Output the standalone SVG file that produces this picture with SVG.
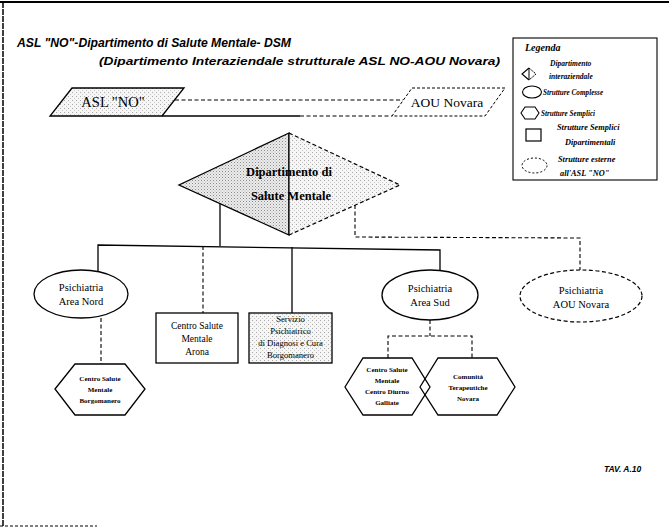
<svg xmlns="http://www.w3.org/2000/svg" width="669" height="528" viewBox="0 0 669 528">
<defs>
<pattern id="stip" width="3" height="3" patternUnits="userSpaceOnUse">
<rect width="3" height="3" fill="#ececec"/>
<rect x="0" y="0" width="1" height="1" fill="#8a8a8a"/>
<rect x="1.5" y="1.5" width="1" height="1" fill="#b0b0b0"/>
</pattern>
<pattern id="stipL" width="4" height="4" patternUnits="userSpaceOnUse">
<rect width="4" height="4" fill="#f6f6f6"/>
<rect x="0" y="0" width="1" height="1" fill="#a8a8a8"/>
<rect x="2" y="2" width="1" height="1" fill="#c8c8c8"/>
</pattern>
<style>
.s{fill:none;stroke:#000;stroke-width:1.3}
.d{fill:none;stroke:#000;stroke-width:1.1;stroke-dasharray:4 2.5}
.n{fill:#fff;stroke:#000;stroke-width:1.3}
.nd{fill:#fff;stroke:#000;stroke-width:1.2;stroke-dasharray:4 2.5}
.t{font-family:"Liberation Serif","Times New Roman",serif;fill:#000;text-anchor:middle}
.ti{font-family:"Liberation Sans",Arial,sans-serif;font-style:italic;font-weight:bold;fill:#000}
.lg{font-family:"Liberation Serif","Times New Roman",serif;font-style:italic;font-weight:bold;fill:#000}
</style>
</defs>
<rect width="669" height="528" fill="#fff"/>
<g id="border">
<line x1="0" y1="2" x2="669" y2="2" stroke="#000" stroke-width="2"/>
<line x1="3" y1="2" x2="3" y2="526" stroke="#000" stroke-width="1.5" stroke-dasharray="6 1"/>
<line x1="0" y1="526" x2="97" y2="526" stroke="#000" stroke-width="1" stroke-dasharray="3 2"/>
</g>
<g id="title">
<text class="ti" x="17" y="47" font-size="12.5" textLength="274" lengthAdjust="spacingAndGlyphs">ASL "NO"-Dipartimento di Salute Mentale- DSM</text>
<text class="ti" x="99" y="65" font-size="10" textLength="401" lengthAdjust="spacingAndGlyphs">(Dipartimento Interaziendale strutturale ASL NO-AOU Novara)</text>
</g>
<g id="legend">
<rect x="513" y="38" width="144" height="142" fill="#fff" stroke="#000" stroke-width="1.1"/>
<text class="lg" x="525" y="51" font-size="10">Legenda</text>
<path d="M529,68 L522,74 L529,80" fill="none" stroke="#000" stroke-width="1.1"/>
<path d="M529,68 L536,74 L529,80" fill="none" stroke="#000" stroke-width="1" stroke-dasharray="2 1"/>
<line x1="529" y1="68" x2="529" y2="80" stroke="#000" stroke-width="1"/>
<text class="lg" x="550" y="66" font-size="7.5">Dipartimento</text>
<text class="lg" x="549" y="79" font-size="7.5">interaziendale</text>
<ellipse cx="532" cy="92" rx="9.5" ry="6" fill="#fff" stroke="#000" stroke-width="1.1"/>
<text class="lg" x="543" y="95" font-size="7.2">Strutture Complesse</text>
<polygon points="521,113 525,107 535,107 539,113 535,119 525,119" fill="#fff" stroke="#000" stroke-width="1.1"/>
<text class="lg" x="541" y="115.5" font-size="7.2">Strutture Semplici</text>
<rect x="526" y="129" width="15" height="12" fill="#fff" stroke="#000" stroke-width="1.2"/>
<text class="lg" x="557" y="130" font-size="8.3">Strutture Semplici</text>
<text class="lg" x="565" y="145" font-size="8.3">Dipartimentali</text>
<ellipse cx="534.5" cy="165.5" rx="12.5" ry="7.5" fill="#fff" stroke="#000" stroke-width="1" stroke-dasharray="2 2"/>
<text class="lg" x="558" y="162" font-size="8.3">Strutture esterne</text>
<text class="lg" x="560" y="176" font-size="8.3">all'ASL "NO"</text>
</g>
<g id="connectors">
<line class="d" x1="175" y1="100" x2="403" y2="100"/>
<line class="s" x1="162" y1="116" x2="300" y2="116"/>
<line class="d" x1="300" y1="116" x2="392" y2="116"/>
<polyline class="s" points="220,204 220,246"/>
<polyline class="s" points="98,272 98,245 440,250 440,271"/>
<line class="d" x1="203" y1="246" x2="203" y2="313"/>
<line class="s" x1="292" y1="247" x2="292" y2="313"/>
<polyline class="d" points="355,205 355,237 580,238 580,270"/>
<line class="d" x1="101" y1="318" x2="101" y2="364"/>
<line class="d" x1="430" y1="320" x2="430" y2="336"/>
<polyline class="d" points="388,358 388,336 472,336 472,358"/>
</g>
<g id="asl-no">
<polygon points="72,88 184,88 162,116 50,116" fill="url(#stipL)" stroke="#000" stroke-width="1.3"/>
<text class="t" x="113" y="107" font-size="14.5">ASL "NO"</text>
</g>
<g id="aou-novara">
<polygon points="412,88 505,88 485,116 392,116" fill="#fff" stroke="#000" stroke-width="1" stroke-dasharray="3 2"/>
<text class="t" x="447" y="107" font-size="13.5">AOU Novara</text>
</g>
<g id="dsm">
<polygon points="289,133 179,185 289,235" fill="url(#stip)" stroke="#000" stroke-width="1.3"/>
<polygon points="289,133 400,185 289,235" fill="url(#stipL)" stroke="none"/>
<polyline points="289,133 400,185 289,235" fill="none" stroke="#000" stroke-width="1.2" stroke-dasharray="4 2.5"/>
<line x1="289" y1="133" x2="289" y2="235" stroke="#000" stroke-width="1.2"/>
<text class="t" x="289" y="176" font-size="12.5" font-weight="bold">Dipartimento di</text>
<text class="t" x="291" y="200" font-size="12.5" font-weight="bold">Salute Mentale</text>
</g>
<g id="psi-nord">
<ellipse class="n" cx="81" cy="294" rx="47" ry="24"/>
<text class="t" x="81" y="291" font-size="10.5">Psichiatria</text>
<text class="t" x="81" y="305" font-size="10.5">Area Nord</text>
</g>
<g id="csm-arona">
<rect class="n" x="156" y="313" width="82" height="50"/>
<text class="t" x="197" y="329" font-size="9.5">Centro Salute</text>
<text class="t" x="197" y="342" font-size="9.5">Mentale</text>
<text class="t" x="197" y="355" font-size="9.5">Arona</text>
</g>
<g id="spdc">
<rect x="249" y="313" width="83" height="50" fill="url(#stipL)" stroke="#000" stroke-width="1.3"/>
<text class="t" x="290.5" y="322" font-size="8.6">Servizio</text>
<text class="t" x="290.5" y="334" font-size="8.6">Psichiatrico</text>
<text class="t" x="290.5" y="346" font-size="8.6">di Diagnosi e Cura</text>
<text class="t" x="290.5" y="358" font-size="8.6">Borgomanero</text>
</g>
<g id="csm-borgomanero">
<polygon class="n" points="55,389 75,364 125,364 145,389 125,415 75,415"/>
<text class="t" x="100" y="381" font-size="7" font-weight="bold">Centro Salute</text>
<text class="t" x="100" y="392" font-size="7" font-weight="bold">Mentale</text>
<text class="t" x="100" y="403" font-size="7" font-weight="bold">Borgomanero</text>
</g>
<g id="psi-sud">
<ellipse class="n" cx="430" cy="295" rx="48" ry="25"/>
<text class="t" x="430" y="292" font-size="10.5">Psichiatria</text>
<text class="t" x="430" y="306" font-size="10.5">Area Sud</text>
</g>
<g id="psi-aou">
<ellipse class="nd" cx="581" cy="296" rx="61" ry="26"/>
<text class="t" x="581" y="294" font-size="10.5">Psichiatria</text>
<text class="t" x="581" y="308" font-size="10.5">AOU Novara</text>
</g>
<g id="csm-galliate">
<polygon class="n" points="345,387 363,358 412,358 430,387 412,415 363,415"/>
<text class="t" x="387" y="372" font-size="7" font-weight="bold">Centro Salute</text>
<text class="t" x="387" y="383" font-size="7" font-weight="bold">Mentale</text>
<text class="t" x="387" y="394" font-size="7" font-weight="bold">Centro Diurno</text>
<text class="t" x="387" y="405" font-size="7" font-weight="bold">Galliate</text>
</g>
<g id="ct-novara">
<polygon points="420,387 438,358 497,358 515,387 497,415 438,415" fill="none" stroke="#000" stroke-width="1.3"/>
<text class="t" x="468" y="379" font-size="7" font-weight="bold">Comunità</text>
<text class="t" x="468" y="390" font-size="7" font-weight="bold">Terapeutiche</text>
<text class="t" x="468" y="401" font-size="7" font-weight="bold">Novara</text>
</g>
<g id="tav">
<text class="ti" x="604" y="472" font-size="8.5">TAV. A.10</text>
</g>
</svg>
